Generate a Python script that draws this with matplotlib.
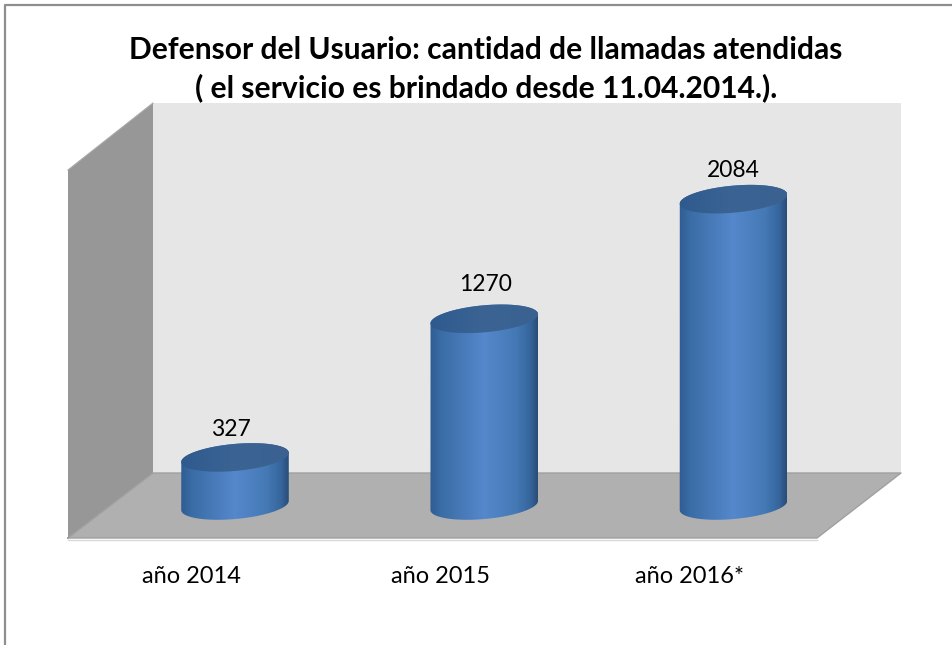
import numpy as np
import matplotlib
matplotlib.use("Agg")
import matplotlib.pyplot as plt
from matplotlib.colors import LinearSegmentedColormap
from matplotlib.patches import Polygon, PathPatch
from matplotlib.path import Path

# --- data ---
categories = ["año 2014", "año 2015", "año 2016*"]
values = [327, 1270, 2084]
title_lines = ["Defensor del Usuario: cantidad de llamadas atendidas",
               "( el servicio es brindado desde 11.04.2014.)."]

# --- layout (pixels of the 953x645 canvas) ---
W, H = 953, 645
plt.rcParams["font.family"] = ["Lato", "DejaVu Sans"]
fig = plt.figure(figsize=(W / 100, H / 100), dpi=100, facecolor="white")

# backdrop axes: pixel coordinates for frame and the 3D box
bg = fig.add_axes([0, 0, 1, 1])
bg.set_xlim(0, W); bg.set_ylim(H, 0); bg.axis("off")
bg.plot([5.5, 5.5, W], [H, 5, 5], color="#8e8e8e", lw=1.6, solid_capstyle="butt")
bg.add_patch(Polygon([(153, 103), (901, 103), (901, 473), (153, 473)], fc="#e6e6e6", ec="none"))
bg.add_patch(Polygon([(68, 170), (153, 103), (153, 473), (68, 538)], fc="#979797", ec="none"))
bg.add_patch(Polygon([(68, 538), (153, 473), (901, 473), (817, 538)], fc="#b0b0b0", ec="none"))
bg.plot([68, 153, 901, 817, 68], [538, 473, 473, 538, 538], color="#a0a0a0", lw=1.0)
bg.plot([68, 153], [170, 103], color="#a8a8a8", lw=0.8)
bg.plot([68, 817], [539.5, 539.5], color="#d8d8d8", lw=1.0)

# value axes: bottom edge sits at the front of the floor
BASE_PX, PX_PER_UNIT = 505.5, 0.147
CENTER0, STEP = 235, 249.25
FRONT_PX = 538
ax = fig.add_axes([0, 1 - FRONT_PX / H, 1, FRONT_PX / H], facecolor="none")
xlim = (-CENTER0 / STEP, (W - CENTER0) / STEP)
ylim = ((BASE_PX - FRONT_PX) / PX_PER_UNIT, BASE_PX / PX_PER_UNIT)
for s in ax.spines.values():
    s.set_visible(False)
ax.set_yticks([])
ax.set_xticks(np.arange(len(categories)) - 0.175)
ax.set_xticklabels(categories, fontsize=17, color="black")
ax.tick_params(axis="x", length=0, pad=20)

body_cmap = LinearSegmentedColormap.from_list(
    "cyl", [(0, "#2f5c92"), (0.1, "#3a6ca5"), (0.5, "#5588cc"),
            (0.8, "#4479b5"), (0.93, "#36659c"), (1, "#294c78")])
top_cmap = LinearSegmentedColormap.from_list("top", ["#2f5a8e", "#3b6494", "#3a6190"])

A, B, TILT = 54.0, 13.5, np.radians(5.2)   # ellipse semi-axes in pixels


def ellipse(cx, v, t):
    """Points of a tilted ellipse round category cx, value v, in data units."""
    dx = A * np.cos(t) * np.cos(TILT) + B * np.sin(t) * np.sin(TILT)
    dy = A * np.cos(t) * np.sin(TILT) - B * np.sin(t) * np.cos(TILT)
    return cx + dx / STEP, v + dy / PX_PER_UNIT


label_dy = [28, 34, 29]   # pixels above the cap centre
label_dx = [-4, 1, 0]
gradient = np.linspace(0, 1, 256)[None, :]
for i, v in enumerate(values):
    # body: lower half of the base (right to left), upper half of the top (left to right)
    xb, yb = ellipse(i, 0, np.linspace(0, np.pi, 80))
    xt, yt = ellipse(i, v, np.linspace(np.pi, 2 * np.pi, 80))
    pts = np.r_[np.c_[xb, yb], np.c_[xt, yt]]
    body = PathPatch(Path(np.r_[pts, pts[:1]]), fc="none", ec="none")
    ax.add_patch(body)
    x0, x1 = i - A / STEP, i + A / STEP
    im = ax.imshow(gradient, cmap=body_cmap, aspect="auto",
                   extent=[x0, x1, -300, v + 300], zorder=2)
    im.set_clip_path(body)
    # top cap
    xc, yc = ellipse(i, v, np.linspace(0, 2 * np.pi, 160))
    cap = PathPatch(Path(np.c_[xc, yc]), fc="none", ec="none", zorder=3)
    ax.add_patch(cap)
    im2 = ax.imshow(gradient, cmap=top_cmap, aspect="auto",
                    extent=[x0, x1, v - 300, v + 300], zorder=3)
    im2.set_clip_path(cap)
    ax.annotate(str(v), (i, v), xytext=(label_dx[i] * 0.72, label_dy[i] * 0.72),
                textcoords="offset points", ha="center", va="center",
                fontsize=16.5, color="black", zorder=5, annotation_clip=False)

ax.set_xlim(*xlim)
ax.set_ylim(*ylim)

fig.text(485.5 / W, 1 - 50 / H, title_lines[0], ha="center", va="center",
         fontsize=21.6, fontweight="bold", color="black")
fig.text(486.5 / W, 1 - 88 / H, title_lines[1], ha="center", va="center",
         fontsize=21.6, fontweight="bold", color="black")

fig.savefig("out.png", dpi=100)
